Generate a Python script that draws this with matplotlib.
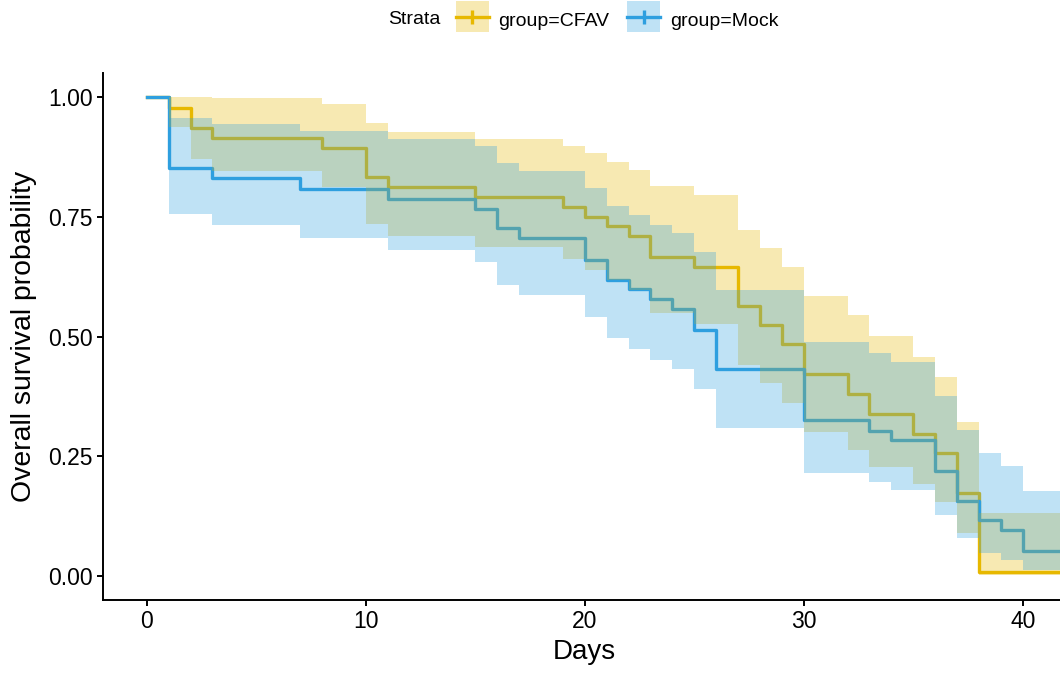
import matplotlib
matplotlib.use("Agg")
import matplotlib.pyplot as plt
from matplotlib.patches import Patch, Rectangle
from matplotlib.lines import Line2D
from matplotlib.legend_handler import HandlerTuple, HandlerPatch

plt.rcParams['font.family'] = ['Liberation Sans', 'DejaVu Sans']

# Kaplan-Meier estimates (value holds from t[i] to t[i+1])
cfav_t = [0, 1, 2, 3, 8, 10, 11, 15, 19, 20, 21, 22, 23, 25, 27, 28, 29, 30, 32, 33, 35, 36, 37, 38]
cfav_s = [1.0, 0.977, 0.936, 0.915, 0.894, 0.833, 0.812, 0.791, 0.770, 0.750, 0.730, 0.709,
          0.667, 0.646, 0.564, 0.524, 0.484, 0.421, 0.379, 0.338, 0.297, 0.256, 0.173, 0.009]
cfav_hi = [1.0, 1.0, 1.0, 0.998, 0.986, 0.945, 0.928, 0.913, 0.898, 0.883, 0.865, 0.848,
           0.814, 0.796, 0.723, 0.684, 0.645, 0.585, 0.545, 0.501, 0.458, 0.415, 0.321, 0.131]
cfav_lo = [1.0, 0.938, 0.871, 0.845, 0.813, 0.735, 0.710, 0.688, 0.661, 0.639, 0.618, 0.597,
           0.549, 0.526, 0.441, 0.402, 0.361, 0.300, 0.263, 0.228, 0.192, 0.155, 0.089, 0.001]

mock_t = [0, 1, 3, 7, 11, 15, 16, 17, 20, 21, 22, 23, 24, 25, 26, 30, 33, 34, 36, 37, 38, 39, 40]
mock_s = [1.0, 0.851, 0.831, 0.809, 0.787, 0.766, 0.726, 0.705, 0.660, 0.619, 0.599, 0.578,
          0.557, 0.514, 0.432, 0.325, 0.303, 0.283, 0.220, 0.157, 0.116, 0.095, 0.053]
mock_hi = [1.0, 0.957, 0.943, 0.929, 0.912, 0.897, 0.862, 0.845, 0.810, 0.772, 0.754, 0.733,
           0.716, 0.677, 0.597, 0.489, 0.466, 0.446, 0.375, 0.305, 0.256, 0.230, 0.178]
mock_lo = [1.0, 0.755, 0.732, 0.706, 0.681, 0.656, 0.608, 0.587, 0.541, 0.496, 0.473, 0.452,
           0.432, 0.390, 0.308, 0.214, 0.197, 0.180, 0.127, 0.079, 0.047, 0.033, 0.012]

t_end = 42
groups = ["group=CFAV", "group=Mock"]
colors = ["#E7B800", "#2E9FDF"]

fig = plt.figure(figsize=(10.6, 6.74), dpi=100)
# axes deliberately runs a little past the right edge, as in the cropped original
ax = fig.add_axes([103 / 1060, 0.110, 44 * 21.9 / 1060, 0.7814])

curves = [(cfav_t, cfav_s, cfav_lo, cfav_hi), (mock_t, mock_s, mock_lo, mock_hi)]
for (t, s, lo, hi), col in zip(curves, colors):
    tt = t + [t_end]
    ax.step(tt, s + [s[-1]], where='post', color=col, lw=2.4, zorder=1)
for (t, s, lo, hi), col in zip(curves, colors):
    tt = t + [t_end]
    ax.fill_between(tt, lo + [lo[-1]], hi + [hi[-1]], step='post',
                    color=col, alpha=0.3, linewidth=0, zorder=2)

ax.set_xlim(-2.0, 42.0)
ax.set_ylim(-0.05, 1.05)
ax.set_xticks([0, 10, 20, 30, 40])
ax.set_yticks([0, 0.25, 0.5, 0.75, 1.0])
ax.set_yticklabels(["0.00", "0.25", "0.50", "0.75", "1.00"])
for side in ['top', 'right']:
    ax.spines[side].set_visible(False)
for side in ['left', 'bottom']:
    ax.spines[side].set_linewidth(1.4)
ax.tick_params(axis='both', which='major', labelsize=16.5, width=1.4, length=4,
               pad=3.5, colors='black')
ax.set_xlabel("Days", fontsize=20, labelpad=4)
ax.set_ylabel("Overall survival probability", fontsize=20.4, labelpad=8)


# legend key box centred on the key line (default puts it a bit low)
def centred_box(legend, orig_handle, xdescent, ydescent, width, height, fontsize):
    full = height + ydescent
    yc = (height - ydescent) / 2
    return Rectangle((-xdescent, yc - full / 2), width, full)


handles = []
for col in colors:
    box = Patch(facecolor=col, alpha=0.3, edgecolor='none')
    ln = Line2D([], [], color=col, lw=2.4, marker='|', markersize=9.5, markeredgewidth=2.4)
    handles.append((box, ln))
fig.legend(handles, groups, loc='center', bbox_to_anchor=(617 / 1060, 1 - 20 / 674),
           ncol=2, frameon=False, fontsize=14, handlelength=1.7, handleheight=1.6,
           handletextpad=0.5, columnspacing=0.9, borderpad=0.2,
           handler_map={tuple: HandlerTuple(ndivide=1, pad=0),
                        Patch: HandlerPatch(patch_func=centred_box)})
fig.text(388 / 1060, 1 - 20 / 674, "Strata", fontsize=14, ha='left', va='center')

fig.savefig("out.png", dpi=100)
